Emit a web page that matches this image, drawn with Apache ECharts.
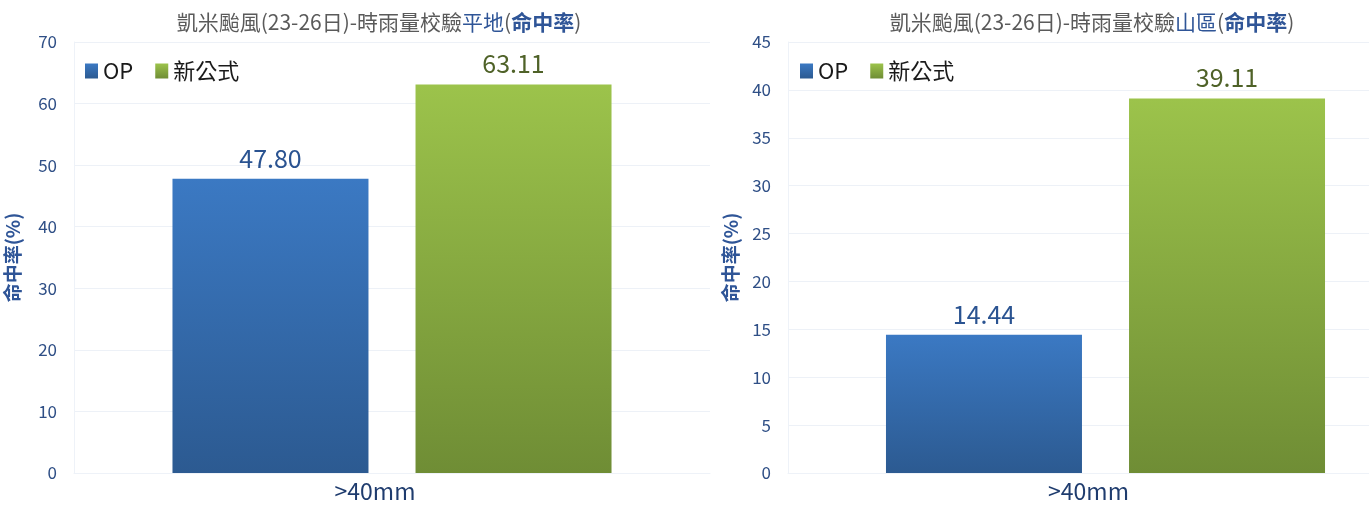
<!DOCTYPE html>
<html>
<head>
<meta charset="utf-8">
<script src="https://cdn.jsdelivr.net/npm/echarts@6/dist/echarts.min.js"></script>
<style>
  html, body { margin: 0; padding: 0; background: #fff; }
  #chart { width: 1369px; height: 506px; }
</style>
</head>
<body>
<div id="chart"></div>
<script>
// data
const categories = ['>40mm']
const seriesNames = ['OP', '新公式']
const plainOP = [47.80]
const plainNew = [63.11]
const mountOP = [14.44]
const mountNew = [39.11]
const plainTicks = { min: 0, max: 70, interval: 10 }
const mountTicks = { min: 0, max: 45, interval: 5 }

const FONT = '"Noto Sans CJK TC", "Noto Sans", sans-serif'
const blueGrad = new echarts.graphic.LinearGradient(0, 0, 0, 1, [
  { offset: 0, color: '#3b79c3' },
  { offset: 1, color: '#2c5a91' }
])
const greenGrad = new echarts.graphic.LinearGradient(0, 0, 0, 1, [
  { offset: 0, color: '#9cc34b' },
  { offset: 1, color: '#6f8d35' }
])

const titleRich = {
  g: { color: '#5a5a5a', fontSize: 21, fontWeight: 'normal', fontFamily: FONT },
  b: { color: '#2f5597', fontSize: 21, fontWeight: 'normal', fontFamily: FONT },
  bb: { color: '#2f5597', fontSize: 21, fontWeight: 'bold', fontFamily: FONT }
}

const makeX = (gridIndex) => ({
  type: 'category',
  gridIndex,
  data: categories,
  axisTick: { show: false },
  axisLine: { show: true, lineStyle: { color: '#eef2f8' } },
  axisLabel: { color: '#1f3c6e', fontSize: 23, fontFamily: FONT, margin: 7, padding: [0, 34, 0, 0] }
})

const makeY = (gridIndex, ticks, nameGap) => ({
  type: 'value',
  gridIndex,
  min: ticks.min,
  max: ticks.max,
  interval: ticks.interval,
  name: '命中率(%)',
  nameLocation: 'middle',
  nameGap,
  nameTextStyle: { color: '#2f5597', fontSize: 19, fontWeight: 'bold', fontFamily: FONT },
  axisLine: { show: true, lineStyle: { color: '#eef2f8' } },
  axisTick: { show: false },
  axisLabel: { color: '#2f4f86', fontSize: 17, fontFamily: FONT, margin: 17 },
  splitLine: { lineStyle: { color: '#edf1f7' } }
})

const makeBar = (name, data, idx, grad, labelColor) => ({
  name,
  type: 'bar',
  xAxisIndex: idx,
  yAxisIndex: idx,
  data,
  barWidth: 196,
  barGap: '24%',
  itemStyle: { color: grad },
  label: {
    show: true,
    position: 'top',
    distance: 8,
    formatter: p => p.value.toFixed(2),
    color: labelColor,
    fontSize: 25,
    fontFamily: FONT
  }
})

const legendBase = {
  data: seriesNames, top: 55, icon: 'rect', itemWidth: 13, itemHeight: 15, itemGap: 22,
  textStyle: { color: '#1a1a1a', fontSize: 22, fontFamily: FONT }
}

const chart = echarts.init(document.getElementById('chart'))
chart.setOption({
  animation: false,
  title: [
    {
      text: '{g|凱米颱風(23-26日)-時雨量校驗}{b|平地}{g|(}{bb|命中率}{g|)}',
      left: 374, top: 7, textAlign: 'center',
      textStyle: { rich: titleRich }
    },
    {
      text: '{g|凱米颱風(23-26日)-時雨量校驗}{b|山區}{g|(}{bb|命中率}{g|)}',
      left: 1087, top: 7, textAlign: 'center',
      textStyle: { rich: titleRich }
    }
  ],
  legend: [
    Object.assign({ left: 80 }, legendBase),
    Object.assign({ left: 795 }, legendBase)
  ],
  grid: [
    { left: 74, width: 636, top: 42, bottom: 33, outerBoundsMode: 'none' },
    { left: 788, width: 635, top: 42, bottom: 33, outerBoundsMode: 'none' }
  ],
  xAxis: [makeX(0), makeX(1)],
  yAxis: [makeY(0, plainTicks, 52), makeY(1, mountTicks, 48)],
  series: [
    makeBar('OP', plainOP, 0, blueGrad, '#2a5391'),
    makeBar('新公式', plainNew, 0, greenGrad, '#4f6228'),
    makeBar('OP', mountOP, 1, blueGrad, '#2a5391'),
    makeBar('新公式', mountNew, 1, greenGrad, '#4f6228')
  ]
})
</script>
</body>
</html>
